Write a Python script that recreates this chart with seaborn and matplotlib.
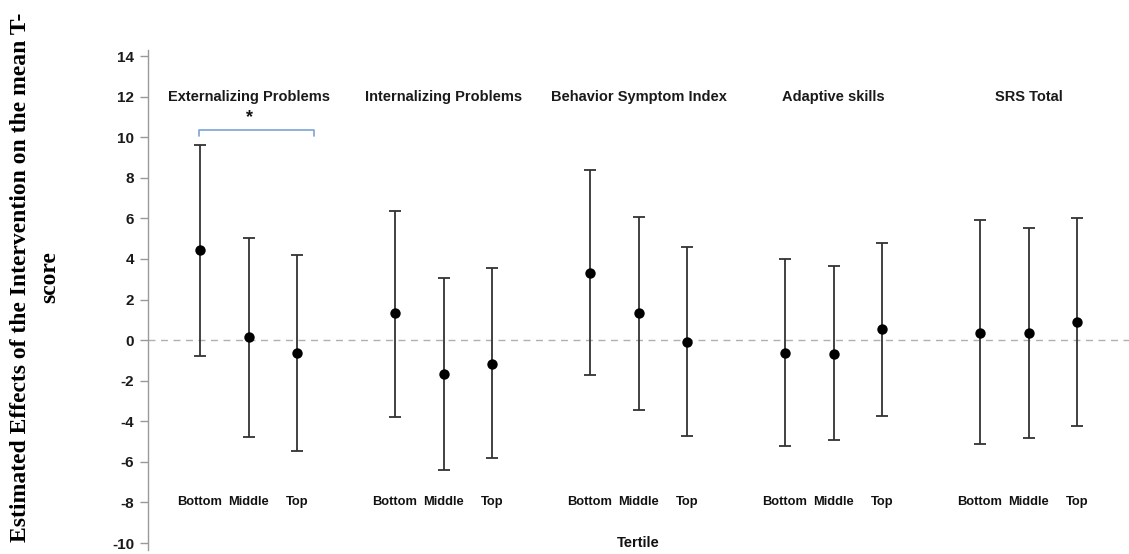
import numpy as np
import pandas as pd
import matplotlib
matplotlib.use("Agg")
import matplotlib.pyplot as plt
import seaborn as sns

# ---- data ----
groups = ["Externalizing Problems", "Internalizing Problems", "Behavior Symptom Index",
          "Adaptive skills", "SRS Total"]
tertiles = ["Bottom", "Middle", "Top"]
estimate = [4.43, 0.16, -0.62,
            1.35, -1.66, -1.17,
            3.33, 1.35, -0.08,
            -0.62, -0.67, 0.53,
            0.36, 0.36, 0.90]
lower = [-0.79, -4.76, -5.45,
         -3.78, -6.42, -5.83,
         -1.71, -3.45, -4.75,
         -5.24, -4.94, -3.73,
         -5.14, -4.81, -4.22]
upper = [9.64, 5.02, 4.22,
         6.37, 3.05, 3.55,
         8.39, 6.06, 4.60,
         3.99, 3.66, 4.79,
         5.90, 5.52, 6.02]
yticks = [-10, -8, -6, -4, -2, 0, 2, 4, 6, 8, 10, 12, 14]

sns.set_theme(style="white")
plt.rcParams["font.family"] = ["Liberation Sans", "DejaVu Sans"]

rows = []
for gi, g in enumerate(groups):
    for ti, t in enumerate(tertiles):
        k = gi * 3 + ti
        rows.append(dict(group=g, tertile=t, pos=gi * 4 + ti,
                         est=estimate[k], lo=lower[k], hi=upper[k]))
df = pd.DataFrame(rows)

fig = plt.figure(figsize=(11.29, 5.54), dpi=100)
ax = fig.add_axes([148 / 1129, 4 / 554, (1129 - 148) / 1129, 500 / 554])

# zero reference line
ax.axhline(0, color="#b0b0b0", lw=1.0, ls=(0, (5, 4)), zorder=0)

# error bars
ax.errorbar(df["pos"], df["est"],
            yerr=[df["est"] - df["lo"], df["hi"] - df["est"]],
            fmt="none", ecolor="#333333", elinewidth=1.3, capsize=4.5,
            capthick=1.3, zorder=2)
# points
sns.scatterplot(data=df, x="pos", y="est", color="black", s=56,
                edgecolor="black", linewidth=0, ax=ax, zorder=3, legend=False)

ax.set_xlim(-1.067, 19.06)
ax.set_ylim(-10.345, 14.30)
ax.set_yticks(yticks)
ax.set_yticklabels([str(v) for v in yticks], fontsize=11, fontweight="bold",
                   color="#1a1a1a")
ax.set_xticks([])
ax.set_xlabel("")
ax.set_ylabel("")
ax.tick_params(axis="y", which="major", left=True, length=6, width=1,
               color="#999999", pad=4)
for s in ["top", "right", "bottom"]:
    ax.spines[s].set_visible(False)
ax.spines["left"].set_color("#9a9a9a")
ax.spines["left"].set_linewidth(1.0)

# group titles and tertile labels
for gi, g in enumerate(groups):
    center = gi * 4 + 1
    ax.text(center, 12.0, g, ha="center", va="center", fontsize=10.5,
            fontweight="bold", color="#1a1a1a")
    for ti, t in enumerate(tertiles):
        ax.text(gi * 4 + ti, -8.0, t, ha="center", va="center", fontsize=9.3,
                fontweight="bold", color="#111111")

ax.text(9.0, -10.0, "Tertile", ha="center", va="center", fontsize=10.5,
        fontweight="bold", color="#111111")

# significance bracket
bx0, bx1, by, bd = -0.03, 2.34, 10.38, 10.08
ax.plot([bx0, bx0, bx1, bx1], [bd, by, by, bd], color="#7aa3d6", lw=1.2, zorder=2)
ax.text(1.02, 10.95, "*", ha="center", va="center",
        fontsize=13, fontweight="bold", color="#111111")

# y label (serif, bold, two lines)
fig.text(0.031, 0.5, "Estimated Effects of the Intervention on the mean T-\nscore",
         rotation=90, ha="center", va="center", multialignment="center",
         fontsize=17, fontweight="bold", family=["Liberation Serif", "DejaVu Serif"],
         linespacing=1.5, color="black")

fig.savefig("out.png", dpi=100)
